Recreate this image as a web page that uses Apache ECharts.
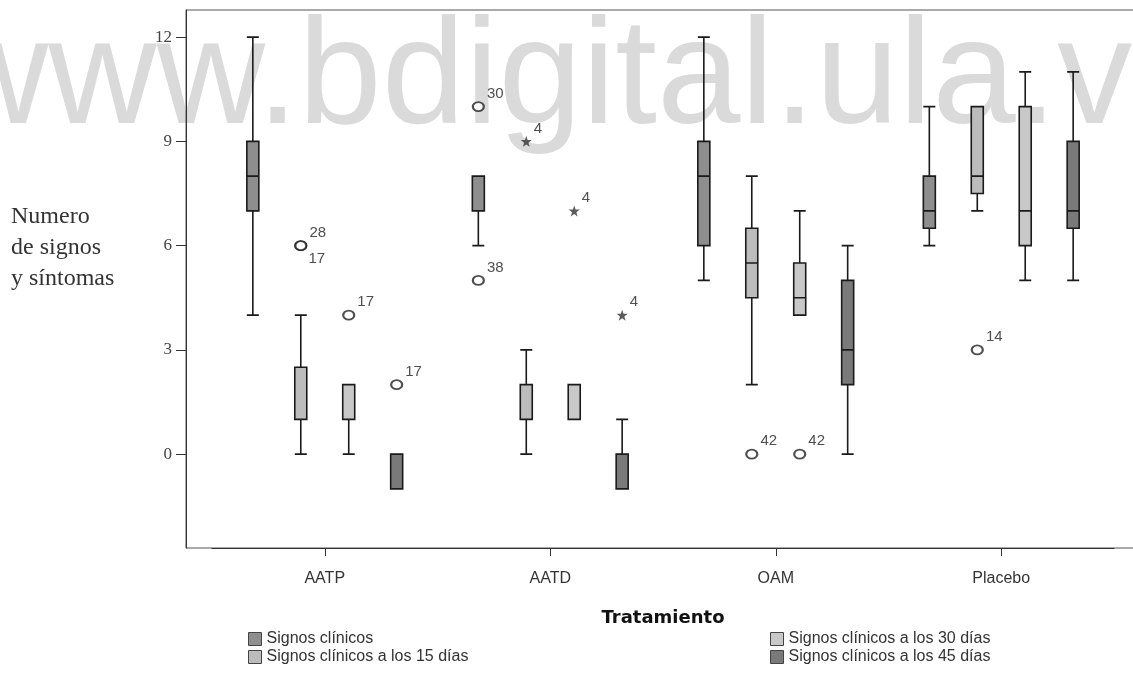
<!DOCTYPE html>
<html>
<head>
<meta charset="utf-8">
<title>Numero de signos y síntomas por tratamiento</title>
<script src="https://cdn.jsdelivr.net/npm/echarts@6/dist/echarts.min.js"></script>
<style>
  html, body { margin: 0; padding: 0; background: #fff; }
  #chart { width: 1133px; height: 678px; }
</style>
</head>
<body>
<div id="chart"></div>
<script>
// categorias del eje x
const tratamientos = ["AATP", "AATD", "OAM", "Placebo"];
const nombresSeries = [
    "Signos clínicos",
    "Signos clínicos a los 15 días",
    "Signos clínicos a los 30 días",
    "Signos clínicos a los 45 días"
];

// [min, Q1, mediana, Q3, max] por tratamiento
const signosClinicos = [[4, 7, 8, 9, 12], [6, 7, 8, 8, 8], [5, 6, 8, 9, 12], [6, 6.5, 7, 8, 10]];
const signos15 = [[0, 1, 1, 2.5, 4], [0, 1, 1, 2, 3], [2, 4.5, 5.5, 6.5, 8], [7, 7.5, 8, 10, 10]];
const signos30 = [[0, 1, 1, 2, 2], [1, 1, 1, 2, 2], [4, 4, 4.5, 5.5, 7], [5, 6, 7, 10, 11]];
const signos45 = [[-1, -1, -1, 0, 0], [-1, -1, 0, 0, 1], [0, 2, 3, 5, 6], [5, 6.5, 7, 9, 11]];

// atipicos: [indice tratamiento, valor, caso, tipo]  "o" = atipico, "*" = extremo
const atipClinicos = [[1, 10, "30", "o"], [1, 5, "38", "o"]];
const atip15 = [[0, 6, "28", "o"], [0, 6, "17", "o"], [1, 9, "4", "*"], [2, 0, "42", "o"], [3, 3, "14", "o"]];
const atip30 = [[0, 4, "17", "o"], [1, 7, "4", "*"], [2, 0, "42", "o"]];
const atip45 = [[0, 2, "17", "o"], [1, 4, "4", "*"]];

const yTicks = [0, 3, 6, 9, 12];

const cajas = [signosClinicos, signos15, signos30, signos45];
const atipicos = [atipClinicos, atip15, atip30, atip45];
const grises = ["#8e8e8e", "#bcbcbc", "#c8c8c8", "#7a7a7a"];

const estrella = "path://M50,0 L61.8,33.8 L97.6,34.5 L69,56.2 L79.4,90.5 L50,70 L20.6,90.5 L31,56.2 L2.4,34.5 L38.2,33.8 Z";

const initChart = () => {
    const myChart = echarts.init(document.getElementById("chart"));

    const gridLeft = 212, gridRight = 19;
    // mismo reparto que usa echarts para las cajas de varias series
    const banda = (myChart.getWidth() - gridLeft - gridRight) / tratamientos.length;
    const disponible = banda * 0.8 - 2;
    const hueco = disponible / cajas.length * 0.3;
    const ancho = (disponible - hueco * (cajas.length - 1)) / cajas.length;
    const desplaz = cajas.map((c, i) => ancho / 2 - disponible / 2 + i * (hueco + ancho));

    const series = [];
    cajas.forEach((datos, i) => {
        series.push({
            name: nombresSeries[i],
            type: "boxplot",
            xAxisIndex: 0,
            yAxisIndex: 0,
            data: datos,
            boxWidth: [12, 12],
            itemStyle: { color: grises[i], borderColor: "#1a1a1a", borderWidth: 1.6 },
            emphasis: { disabled: true }
        });
    });
    atipicos.forEach((lista, i) => {
        const vistos = {};
        series.push({
            name: nombresSeries[i] + " (atípicos)",
            type: "scatter",
            xAxisIndex: 0,
            yAxisIndex: 0,
            symbolOffset: [desplaz[i], 0],
            z: 5,
            data: lista.map(p => {
                const clave = p[0] + "_" + p[1];
                const repetido = vistos[clave];
                vistos[clave] = true;
                return {
                    value: [p[0], p[1]],
                    symbol: p[3] === "*" ? estrella : "emptyCircle",
                    symbolSize: p[3] === "*" ? 11 : [11, 9],
                    itemStyle: p[3] === "*" ? { color: "#333" } : { color: "#222", borderWidth: 1.3 },
                    label: {
                        show: true,
                        formatter: p[2],
                        position: "right",
                        distance: 2,
                        offset: repetido ? [-1, 13] : [0, -13]
                    }
                };
            }),
            label: { fontFamily: "Liberation Sans", fontSize: 15, color: "#222" },
            emphasis: { disabled: true }
        });
    });

    const leyendaBase = {
        orient: "vertical",
        top: 626,
        itemWidth: 13,
        itemHeight: 13,
        itemGap: 2,
        icon: "rect",
        selectedMode: false,
        textStyle: { fontFamily: "Liberation Sans", fontSize: 16, color: "#333" }
    };
    const itemLeyenda = i => ({
        name: nombresSeries[i],
        itemStyle: { color: grises[i], borderColor: "#444", borderWidth: 1 }
    });

    myChart.setOption({
        animation: false,
        backgroundColor: "#fff",
        title: {
            text: "Numero\nde signos\ny síntomas",
            left: 6,
            top: 196,
            textStyle: {
                fontFamily: "Liberation Serif",
                fontWeight: "normal",
                fontSize: 24,
                lineHeight: 31,
                color: "#333"
            }
        },
        graphic: [{
            type: "text",
            x: -60,
            y: 82,
            z: -10,
            silent: true,
            style: {
                text: "www.bdigital.ula.ve",
                font: '150px "Liberation Sans"',
                fill: "#dadada",
                verticalAlign: "middle",
                textVerticalAlign: "middle"
            }
        }],
        legend: [
            Object.assign({}, leyendaBase, { left: 243, data: [itemLeyenda(0), itemLeyenda(1)] }),
            Object.assign({}, leyendaBase, { left: 765, data: [itemLeyenda(2), itemLeyenda(3)] })
        ],
        grid: [
            { left: gridLeft, right: gridRight, top: 10, bottom: 130, outerBoundsMode: "none" },
            { left: 186, top: 10, width: 980, bottom: 130, show: true, borderColor: "#555", borderWidth: 1, outerBoundsMode: "none" }
        ],
        xAxis: [
            {
                type: "category",
                gridIndex: 0,
                data: tratamientos,
                boundaryGap: true,
                axisLine: { onZero: false, lineStyle: { color: "#333" } },
                axisTick: { show: true, inside: false, alignWithLabel: true, length: 8, lineStyle: { color: "#333", width: 1 } },
                axisLabel: { margin: 23, fontFamily: "Liberation Sans", fontSize: 16, color: "#333" },
                splitLine: { show: false },
                name: "Tratamiento",
                nameLocation: "middle",
                nameGap: 61,
                nameTextStyle: { fontFamily: "DejaVu Sans", fontWeight: "bold", fontSize: 18, color: "#111" }
            },
            { type: "value", gridIndex: 1, show: false }
        ],
        yAxis: [
            {
                type: "value",
                gridIndex: 0,
                min: -2.7,
                max: 12.78,
                offset: 26,
                splitLine: { show: false },
                axisLine: { show: true, lineStyle: { color: "#333" } },
                axisTick: { show: true, length: 10, customValues: yTicks, lineStyle: { color: "#333" } },
                axisLabel: { customValues: yTicks, margin: 14, fontFamily: "Liberation Serif", fontSize: 17, color: "#444" }
            },
            { type: "value", gridIndex: 1, show: false }
        ],
        series: series
    });
};

window.addEventListener("load", initChart);
</script>
</body>
</html>
